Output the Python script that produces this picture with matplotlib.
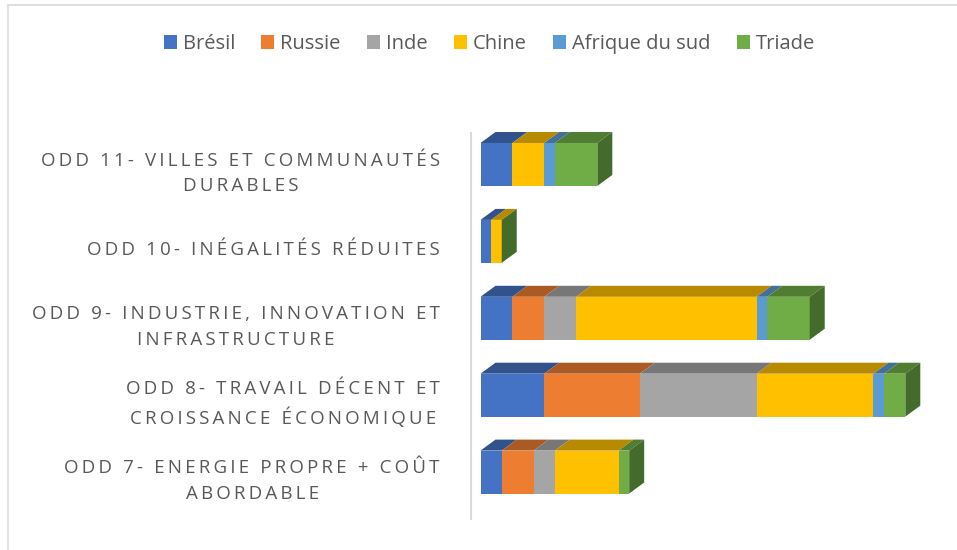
import matplotlib
matplotlib.use("Agg")
from matplotlib import pyplot as plt
from matplotlib.patches import Polygon, Rectangle
import matplotlib.colors as mcolors
import numpy as np

# categories, bottom to top
categories = ["ODD 7- ENERGIE PROPRE + COÛT\nABORDABLE",
              "ODD 8- TRAVAIL DÉCENT ET\nCROISSANCE ÉCONOMIQUE",
              "ODD 9- INDUSTRIE, INNOVATION ET\nINFRASTRUCTURE",
              "ODD 10- INÉGALITÉS RÉDUITES",
              "ODD 11- VILLES ET COMMUNAUTÉS\nDURABLES"]

series = ["Brésil", "Russie", "Inde", "Chine", "Afrique du sud", "Triade"]
bresil = [2, 6, 3, 1, 3]
russie = [3, 9, 3, 0, 0]
inde = [2, 11, 3, 0, 0]
chine = [6, 11, 17, 1, 3]
afrique = [0, 1, 1, 0, 1]
triade = [1, 2, 4, 0, 4]

colors = ["#4472C4", "#ED7D31", "#A5A5A5", "#FFC000", "#5B9BD5", "#70AD47"]

W, H = 957, 550
fig = plt.figure(figsize=(W / 100, H / 100), dpi=100)

# outer chart border
fig.patches.append(Rectangle((8 / W, -0.1), 1.2, 1 - 5 / H + 0.1, transform=fig.transFigure,
                             fill=False, edgecolor="#d9d9d9", lw=1.2))

# plot area in pixels
left_px, right_px = 470, 957
top_px, bot_px = 130, 520
ax = fig.add_axes([left_px / W, 1 - bot_px / H, (right_px - left_px) / W, (bot_px - top_px) / H])
px_per_unit = 10.62
x0 = -10.5 / px_per_unit
ax.set_xlim(x0, x0 + (right_px - left_px) / px_per_unit)
ax.set_ylim(-(bot_px - 472) / 77.0, 4 + (164.5 - top_px) / 77.0)
ax.axis("off")
ax.plot([x0 + 0.05, x0 + 0.05], [ax.get_ylim()[0], ax.get_ylim()[1] - 0.04], color="#d9d9d9", lw=1.5)

bar_h = 43 / 77.0
dx = 15 / px_per_unit
dy = 11 / 77.0


def shade(c, f):
    r, g, b = mcolors.to_rgb(c)
    return (r * f, g * f, b * f)


data = np.array([bresil, russie, inde, chine, afrique, triade], dtype=float)
ypos = np.arange(len(categories))
lefts = np.zeros(len(categories))
for k, (name, vals) in enumerate(zip(series, data)):
    ax.barh(ypos, vals, left=lefts, height=bar_h, color=colors[k], label=name, zorder=2)
    for i, y in enumerate(ypos):
        l, r = lefts[i], lefts[i] + vals[i]
        t = y + bar_h / 2
        if vals[i] > 0:
            ax.add_patch(Polygon([(l, t), (r, t), (r + dx, t + dy), (l + dx, t + dy)],
                                 closed=True, facecolor=shade(colors[k], 0.72), edgecolor="none", zorder=2))
    lefts = lefts + vals

# right side face of each stack
for i, y in enumerate(ypos):
    r = lefts[i]
    b, t = y - bar_h / 2, y + bar_h / 2
    ax.add_patch(Polygon([(r, b), (r + dx, b + dy), (r + dx, t + dy), (r, t)],
                         closed=True, facecolor=shade(colors[-1], 0.62), edgecolor="none", zorder=3))

# spaced-out category labels
for y, lab in zip(ypos, categories):
    spaced = "\n".join("\u2009".join(line) for line in lab.split("\n"))
    ax.text(x0 - 30 / px_per_unit, y - 9 / 77.0, spaced, ha="right", va="center",
            multialignment="center", fontsize=13.5, color="#595959",
            family=["Open Sans", "DejaVu Sans"], linespacing=1.55)

handles, labels = ax.get_legend_handles_labels()
fig.legend(handles, labels, loc="center", bbox_to_anchor=(489.5 / W, 1 - 44 / H), ncol=6,
           frameon=False, handlelength=0.65, handleheight=0.65, handletextpad=0.3,
           columnspacing=1.3, prop={"family": "Open Sans", "size": 14.5}, labelcolor="#595959")

fig.savefig("out.png", dpi=100)
